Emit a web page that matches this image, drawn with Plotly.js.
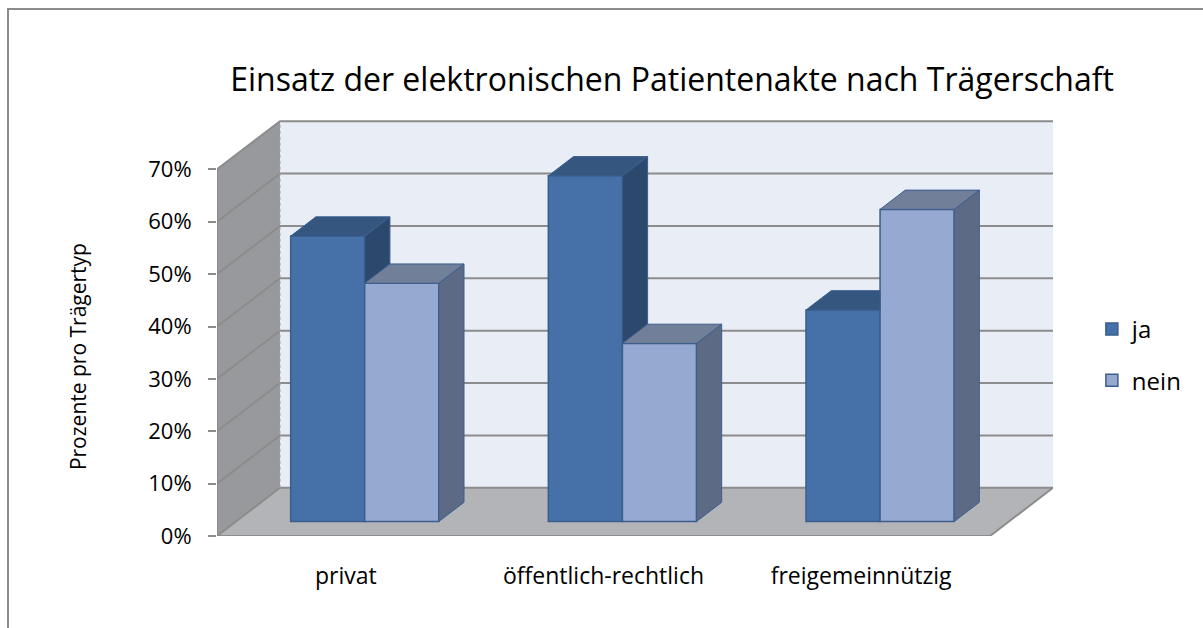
<!DOCTYPE html>
<html><head><meta charset="utf-8">
<script src="https://cdn.plot.ly/plotly-3.0.1.min.js"></script>
<style>
html,body{margin:0;padding:0;background:#fff;overflow:hidden}
#chart{width:1203px;height:628px;position:relative}
#frame{position:absolute;left:7px;top:8px;width:1300px;height:700px;border-left:2px solid #8c8c8c;border-top:2px solid #8c8c8c;pointer-events:none}
</style></head><body>
<div id="chart"></div><div id="frame"></div>
<script>
// ---- data ----
const categories = ['privat', 'öffentlich-rechtlich', 'freigemeinnützig'];
const ja = [54.5, 66.0, 40.4];
const nein = [45.5, 34.0, 59.6];
const seriesNames = ['ja', 'nein'];
const yTicks = [0, 10, 20, 30, 40, 50, 60, 70];
const yTickText = yTicks.map(v => v + '%');
const chartTitle = 'Einsatz der elektronischen Patientenakte nach Trägerschaft';
const yTitle = 'Prozente pro Trägertyp';

// ---- 3D geometry (oblique projection, in axis units) ----
const N = categories.length;
const YMAX = 70;
const DX = 0.2445, DY = 9.2;          // full depth offset
const GAP = 0.2125, BW = 0.2875;       // slot gap & bar width
const D1 = 0.3, D2 = 0.7;              // bar front/back depth

const FONT = 'Open Sans, sans-serif';
const col = {
  jaFront: '#4571A8', jaTop: '#34567F', jaSide: '#2D486D',
  neinFront: '#95A9D1', neinTop: '#717F99', neinSide: '#5D6A85',
  edge: '#3B5E8D', wall: '#E9EDF5', side: '#98999C', floor: '#B3B4B7', grid: '#8C8C8C'
};

function P(pts) { return 'M' + pts.map(p => p[0] + ',' + p[1]).join('L') + 'Z'; }
function L(pts) { return 'M' + pts.map(p => p[0] + ',' + p[1]).join('L'); }

const shapes = [];
const bg = (path, fill, line) => shapes.push({type: 'path', xref: 'x', yref: 'y', layer: 'below', path: path,
  fillcolor: fill || 'rgba(0,0,0,0)', line: line || {width: 0}});
// back wall, left wall, floor
bg(P([[DX, DY], [N + DX, DY], [N + DX, YMAX + DY], [DX, YMAX + DY]]), col.wall);
bg(P([[0, 0], [0, YMAX], [DX, YMAX + DY], [DX, DY]]), col.side);
bg(P([[0, 0], [N, 0], [N + DX, DY], [DX, DY]]), col.floor);
// gridlines
yTicks.forEach(v => {
  bg(L([[0, v], [DX, v + DY], [N + DX, v + DY]]), null, {color: col.grid, width: 2});
});
bg(L([[DX, DY], [DX, YMAX + DY]]), null, {color: '#A0A0A0', width: 1, dash: 'dot'});
bg(L([[0, 0], [0, YMAX]]), null, {color: col.grid, width: 2});
bg(L([[0, 0], [N, 0], [N + DX, DY]]), null, {color: col.grid, width: 2});

const traces = [];
// front faces as bars
[ja, nein].forEach((vals, s) => {
  traces.push({
    type: 'bar', name: seriesNames[s], legendgroup: seriesNames[s],
    x: vals.map((v, i) => i + 0.5 + D1 * DX),
    y: vals, base: vals.map(() => D1 * DY),
    width: BW, offset: s === 0 ? -BW : 0,
    marker: {color: s === 0 ? col.jaFront : col.neinFront, line: {color: col.edge, width: 1.5}},
    hoverinfo: 'skip'
  });
});
// top and side faces
function poly(pts, fill, grp) {
  traces.push({type: 'scatter', mode: 'lines', fill: 'toself', fillcolor: fill,
    x: pts.map(p => p[0]).concat([pts[0][0]]), y: pts.map(p => p[1]).concat([pts[0][1]]),
    line: {color: col.edge, width: 1}, showlegend: false, legendgroup: grp, hoverinfo: 'skip'});
}
const sx = (D2 - D1) * DX, sy = (D2 - D1) * DY;
for (let i = 0; i < N; i++) {
  const xL = i + GAP + D1 * DX, xM = xL + BW, xR = xM + BW, y0 = D1 * DY;
  const vj = ja[i] + y0, vn = nein[i] + y0;
  if (ja[i] > nein[i]) {
    poly([[xM, vn], [xM, vj], [xM + sx, vj + sy], [xM + sx, vn + sy]], col.jaSide, 'ja');
    poly([[xL, vj], [xM, vj], [xM + sx, vj + sy], [xL + sx, vj + sy]], col.jaTop, 'ja');
  } else {
    poly([[xL, vj], [xM, vj], [xM, vj + sy], [xL + sx, vj + sy]], col.jaTop, 'ja');
  }
  poly([[xR, y0], [xR, vn], [xR + sx, vn + sy], [xR + sx, y0 + sy]], col.neinSide, 'nein');
  poly([[xM, vn], [xR, vn], [xR + sx, vn + sy], [xM + sx, vn + sy]], col.neinTop, 'nein');
}

const layout = {
  width: 1203, height: 628,
  margin: {l: 217, r: 149.9, t: 116.9, b: 92, pad: 0},
  paper_bgcolor: 'rgba(0,0,0,0)', plot_bgcolor: 'rgba(0,0,0,0)',
  font: {family: FONT, color: '#000'},
  title: {text: chartTitle, font: {size: 32, family: FONT, color: '#000'},
    x: 0.5586, xref: 'container', xanchor: 'center', y: 0.8726, yref: 'container', yanchor: 'middle'},
  barmode: 'overlay',
  showlegend: true,
  legend: {x: 1.0465, xanchor: 'left', y: 0.432, yanchor: 'middle', traceorder: 'grouped',
    tracegroupgap: 17, font: {size: 24, family: FONT}, bgcolor: 'rgba(0,0,0,0)'},
  xaxis: {range: [0, N + DX], showgrid: false, zeroline: false, showline: false, ticks: '',
    tickmode: 'array', tickvals: categories.map((c, i) => i + 0.5), ticktext: categories,
    tickfont: {size: 23, family: FONT}, ticklabelstandoff: 24, fixedrange: true},
  yaxis: {range: [0, YMAX + 10], showgrid: false, zeroline: false, showline: false,
    tickmode: 'array', tickvals: yTicks, ticktext: yTickText, ticks: 'outside', ticklen: 8,
    tickwidth: 2, tickcolor: col.grid, tickfont: {size: 22, family: FONT}, ticklabelstandoff: 12,
    fixedrange: true},
  annotations: [{text: yTitle, textangle: -90, xref: 'paper', yref: 'paper',
    x: -0.1662, y: 0.4271, xanchor: 'center', yanchor: 'middle', showarrow: false,
    font: {size: 21, family: FONT, color: '#000'}}],
  shapes: shapes
};
Plotly.newPlot('chart', traces, layout, {displayModeBar: false, staticPlot: true});
</script>
</body></html>
